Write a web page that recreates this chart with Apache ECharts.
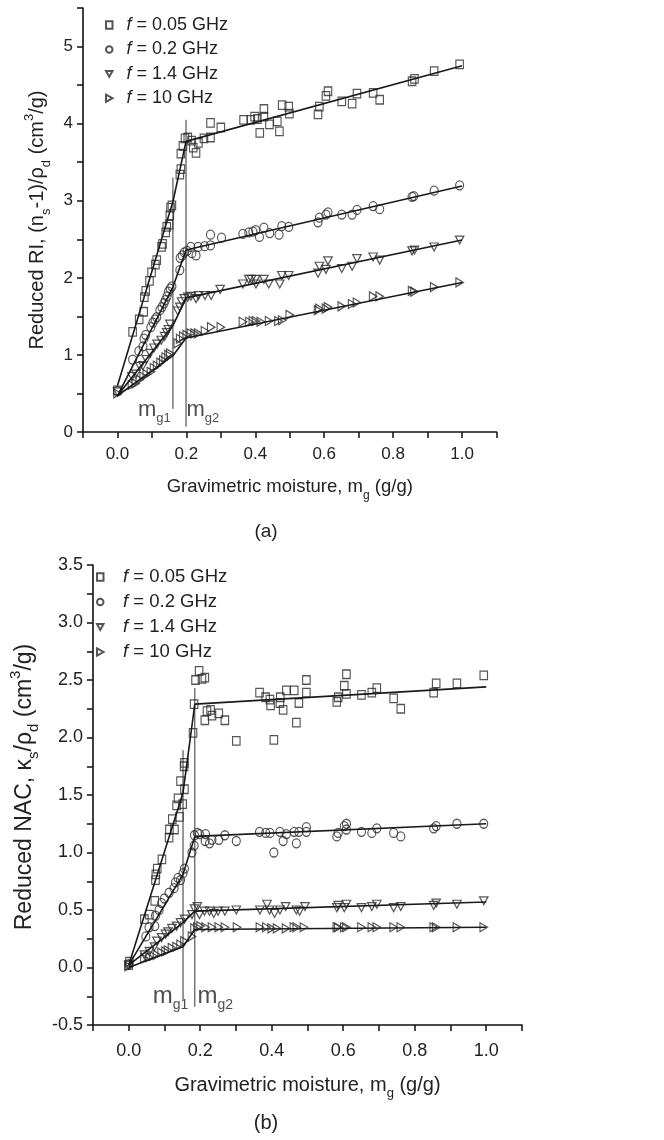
<!DOCTYPE html>
<html><head><meta charset="utf-8">
<script src="https://cdn.jsdelivr.net/npm/echarts@6/dist/echarts.min.js"></script>
<style>html,body{margin:0;padding:0;background:#fff}#c{width:664px;height:1140px}</style>
</head><body><div id="c"></div>
<script>
// ---------- data ----------
const seriesNames = ['f = 0.05 GHz', 'f = 0.2 GHz', 'f = 1.4 GHz', 'f = 10 GHz'];

// (a) reduced RI
const aSqX = [0.0,0.044,0.063,0.076,0.078,0.082,0.093,0.099,0.110,0.114,0.128,0.131,0.140,0.143,0.150,0.152,0.154,0.158,0.181,0.184,0.184,0.190,0.196,0.204,0.215,0.220,0.228,0.235,0.251,0.270,0.270,0.300,0.366,0.387,0.398,0.406,0.413,0.425,0.425,0.441,0.464,0.470,0.478,0.497,0.499,0.582,0.586,0.605,0.611,0.651,0.681,0.695,0.742,0.761,0.855,0.862,0.919,0.993];
const aSqY = [0.54,1.30,1.46,1.56,1.75,1.83,1.96,2.07,2.17,2.23,2.40,2.44,2.59,2.66,2.69,2.81,2.91,2.94,3.34,3.41,3.61,3.71,3.81,3.82,3.78,3.69,3.62,3.75,3.81,3.82,4.01,3.95,4.05,4.05,4.09,4.06,3.88,4.19,4.09,3.99,4.03,3.90,4.24,4.22,4.13,4.12,4.22,4.36,4.42,4.29,4.26,4.39,4.40,4.31,4.55,4.58,4.68,4.77];
const aCiX = [0.0,0.044,0.062,0.074,0.077,0.082,0.097,0.103,0.109,0.114,0.123,0.129,0.135,0.139,0.144,0.148,0.153,0.158,0.181,0.182,0.188,0.194,0.202,0.213,0.216,0.228,0.234,0.253,0.270,0.270,0.302,0.364,0.381,0.393,0.401,0.412,0.425,0.442,0.469,0.477,0.497,0.582,0.586,0.605,0.611,0.651,0.681,0.695,0.742,0.761,0.855,0.860,0.919,0.993];
const aCiY = [0.53,0.94,1.05,1.11,1.21,1.26,1.36,1.42,1.46,1.49,1.58,1.62,1.67,1.71,1.76,1.82,1.86,1.89,2.10,2.26,2.29,2.33,2.35,2.40,2.32,2.29,2.40,2.41,2.56,2.42,2.52,2.57,2.59,2.60,2.62,2.53,2.65,2.58,2.56,2.67,2.66,2.72,2.78,2.82,2.85,2.82,2.82,2.88,2.93,2.89,3.05,3.06,3.13,3.20];
const aTdX = [0.0,0.042,0.053,0.065,0.074,0.084,0.095,0.106,0.115,0.127,0.137,0.143,0.148,0.152,0.175,0.181,0.186,0.194,0.204,0.213,0.228,0.235,0.254,0.272,0.298,0.364,0.381,0.389,0.401,0.402,0.425,0.439,0.471,0.477,0.497,0.582,0.586,0.605,0.611,0.651,0.681,0.695,0.742,0.761,0.855,0.862,0.919,0.993];
const aTdY = [0.52,0.72,0.75,0.85,0.86,0.94,1.02,1.09,1.14,1.19,1.24,1.29,1.33,1.40,1.57,1.62,1.69,1.73,1.75,1.76,1.73,1.77,1.77,1.77,1.85,1.92,1.98,1.98,1.98,1.92,1.98,1.92,1.92,2.03,2.03,2.06,2.15,2.11,2.22,2.12,2.15,2.25,2.27,2.23,2.35,2.36,2.40,2.49];
const aTrX = [0.0,0.042,0.053,0.065,0.076,0.085,0.097,0.106,0.115,0.125,0.133,0.140,0.148,0.153,0.175,0.182,0.191,0.201,0.213,0.224,0.234,0.254,0.272,0.300,0.364,0.383,0.393,0.402,0.416,0.440,0.467,0.478,0.500,0.582,0.586,0.605,0.611,0.651,0.681,0.695,0.742,0.761,0.855,0.862,0.919,0.993];
const aTrY = [0.50,0.61,0.63,0.68,0.72,0.75,0.78,0.83,0.86,0.90,0.93,0.97,1.00,1.02,1.15,1.21,1.24,1.26,1.28,1.28,1.28,1.31,1.36,1.36,1.43,1.43,1.44,1.44,1.43,1.44,1.44,1.45,1.52,1.58,1.60,1.60,1.62,1.63,1.66,1.68,1.76,1.76,1.83,1.82,1.88,1.94];
const aMg1 = 0.161, aMg2 = 0.199;
const aFitX = [0, aMg1, aMg2, 1.0];
const aFitSq = [0.60, 2.99, 3.77, 4.75];
const aFitCi = [0.47, 1.88, 2.36, 3.19];
const aFitTd = [0.47, 1.38, 1.74, 2.49];
const aFitTr = [0.47, 0.99, 1.22, 1.94];
const aMg1Span = [0.30, 3.30];
const aMg2Span = [0.07, 4.05];
const aMgLabelY = 0.28, aMg1LabelX = 0.058, aMg2LabelX = 0.199;

// (b) reduced NAC
const bSqX = [0.0,0.002,0.044,0.058,0.073,0.075,0.076,0.080,0.093,0.113,0.114,0.122,0.128,0.134,0.138,0.142,0.145,0.151,0.155,0.156,0.156,0.180,0.183,0.187,0.197,0.205,0.213,0.213,0.219,0.229,0.233,0.252,0.269,0.301,0.366,0.383,0.395,0.397,0.406,0.423,0.424,0.432,0.441,0.463,0.469,0.476,0.497,0.497,0.582,0.586,0.603,0.609,0.609,0.651,0.680,0.694,0.741,0.761,0.853,0.860,0.918,0.993];
const bSqY = [0.02,0.05,0.42,0.46,0.58,0.76,0.81,0.86,0.94,1.13,1.20,1.29,1.20,1.41,1.47,1.31,1.62,1.42,1.75,1.55,1.78,2.04,2.29,2.50,2.58,2.51,2.52,2.15,2.23,2.24,2.19,2.21,2.15,1.97,2.39,2.35,2.33,2.28,1.98,2.30,2.35,2.24,2.41,2.41,2.13,2.30,2.50,2.39,2.31,2.35,2.45,2.55,2.38,2.37,2.39,2.43,2.34,2.25,2.39,2.47,2.47,2.54];
const bCiX = [0.0,0.048,0.057,0.073,0.075,0.085,0.092,0.100,0.113,0.127,0.131,0.138,0.145,0.152,0.156,0.177,0.183,0.184,0.192,0.198,0.214,0.215,0.226,0.233,0.252,0.269,0.301,0.366,0.383,0.395,0.406,0.423,0.432,0.441,0.463,0.469,0.476,0.497,0.497,0.582,0.586,0.603,0.609,0.609,0.651,0.680,0.694,0.741,0.761,0.853,0.860,0.918,0.993];
const bCiY = [0.03,0.27,0.35,0.36,0.45,0.50,0.56,0.60,0.65,0.69,0.74,0.78,0.76,0.82,0.86,1.00,1.06,1.15,1.17,1.16,1.10,1.16,1.08,1.11,1.11,1.15,1.10,1.18,1.17,1.17,1.00,1.18,1.10,1.16,1.18,1.08,1.18,1.22,1.18,1.14,1.17,1.23,1.25,1.20,1.18,1.17,1.21,1.17,1.14,1.21,1.23,1.25,1.25];
const bTdX = [0.0,0.044,0.058,0.072,0.079,0.092,0.103,0.110,0.121,0.134,0.145,0.156,0.177,0.184,0.192,0.198,0.212,0.226,0.238,0.250,0.269,0.301,0.367,0.387,0.394,0.408,0.423,0.439,0.469,0.478,0.493,0.582,0.586,0.603,0.609,0.651,0.680,0.694,0.741,0.761,0.853,0.860,0.918,0.993];
const bTdY = [0.02,0.11,0.14,0.18,0.23,0.26,0.29,0.31,0.34,0.36,0.39,0.42,0.46,0.51,0.53,0.46,0.49,0.49,0.47,0.49,0.49,0.50,0.50,0.55,0.50,0.47,0.50,0.53,0.50,0.49,0.53,0.52,0.54,0.52,0.55,0.52,0.53,0.55,0.52,0.53,0.54,0.56,0.55,0.58];
const bTrX = [0.0,0.044,0.058,0.069,0.079,0.092,0.103,0.110,0.121,0.134,0.145,0.156,0.177,0.184,0.192,0.201,0.215,0.233,0.252,0.269,0.303,0.367,0.385,0.400,0.415,0.440,0.462,0.470,0.490,0.582,0.586,0.603,0.609,0.651,0.680,0.694,0.741,0.761,0.853,0.860,0.918,0.993];
const bTrY = [0.01,0.08,0.09,0.10,0.11,0.13,0.14,0.15,0.17,0.18,0.20,0.23,0.27,0.34,0.35,0.36,0.35,0.35,0.35,0.35,0.35,0.35,0.35,0.34,0.34,0.34,0.35,0.35,0.35,0.35,0.35,0.35,0.35,0.35,0.35,0.35,0.35,0.35,0.35,0.35,0.35,0.35];
const bMg1 = 0.152, bMg2 = 0.185;
const bFitX = [0, bMg1, bMg2, 1.0];
const bFitSq = [0.02, 1.52, 2.29, 2.44];
const bFitCi = [0.02, 0.81, 1.14, 1.25];
const bFitTd = [0.02, 0.39, 0.49, 0.57];
const bFitTr = [0.00, 0.18, 0.33, 0.35];
const bMg1Span = [-0.28, 1.89];
const bMg2Span = [-0.34, 2.43];
const bMgLabelY = -0.25, bMg1LabelX = 0.066, bMg2LabelX = 0.191;

// ---------- style ----------
const FR = '"Liberation Sans", Arial, sans-serif';
const INK = '#222';
const SYMBOLS = ['rect', 'path://M0,5A5,5,0,1,1,10,5A5,5,0,1,1,0,5Z', 'path://M0,0L10,0L5,9Z', 'path://M0,0L9,5L0,10Z'];
const SIZES = [[7.5, 8.5], [8, 9], [8.5, 8], [7.5, 9]];
const zip = (xs, ys) => xs.map((x, i) => [x, ys[i]]);

function nameRich(fs, sfs) {
  return {
    t: {fontSize: fs, fontFamily: FR, color: INK, lineHeight: fs + 10, verticalAlign: 'middle'},
    sub: {fontSize: sfs, fontFamily: FR, color: INK, lineHeight: sfs + 1, verticalAlign: 'bottom'},
    sup: {fontSize: sfs, fontFamily: FR, color: INK, lineHeight: sfs + 1, verticalAlign: 'top'}
  };
}
function axisBase(fs, tickLen) {
  return {
    type: 'value',
    axisLine: {show: true, onZero: false, lineStyle: {color: '#111', width: 1.6}},
    axisTick: {show: true, inside: false, length: tickLen, lineStyle: {color: '#111', width: 1.5}},
    splitLine: {show: false},
    axisLabel: {fontFamily: FR, fontSize: fs, color: INK}
  };
}
const xFmt = v => { const k = Math.round(v * 10); return (k % 2 === 0 && k >= 0 && k <= 10) ? (k / 10).toFixed(1) : ''; };
const yFmtA = v => { const k = Math.round(v * 2); return (k % 2 === 0) ? String(k / 2) : ''; };
const yFmtB = v => { const k = Math.round(v * 4); return (k % 2 === 0) ? (k / 4).toFixed(1) : ''; };

const xName = '{t|Gravimetric moisture, m}{sub|g}{t| (g/g)}';

function scatterSeries(idx, name, xs, ys, s) {
  return {
    type: 'scatter', name: name, xAxisIndex: idx, yAxisIndex: idx,
    symbol: SYMBOLS[s], symbolSize: SIZES[s], z: 3,
    itemStyle: {color: 'rgba(0,0,0,0)', borderColor: '#2a2a2a', borderWidth: 1.2},
    data: zip(xs, ys)
  };
}
function fitSeries(idx, xs, ys) {
  return {
    type: 'line', name: 'fit', xAxisIndex: idx, yAxisIndex: idx, showSymbol: false, symbol: 'none',
    lineStyle: {color: '#1a1a1a', width: 1.6}, z: 4, silent: true,
    data: zip(xs, ys)
  };
}
function vline(idx, x, span) {
  return {
    type: 'line', name: 'mg', xAxisIndex: idx, yAxisIndex: idx, showSymbol: false, symbol: 'none',
    lineStyle: {color: '#333', width: 1}, z: 2, silent: true,
    data: [[x, span[0]], [x, span[1]]]
  };
}
function mgLabel(idx, x, y, sub, fs, sfs) {
  return {
    type: 'scatter', name: 'mglab', xAxisIndex: idx, yAxisIndex: idx, symbolSize: 1, silent: true,
    itemStyle: {color: 'rgba(0,0,0,0)'},
    label: {show: true, position: 'right', distance: 0,
      formatter: '{m|m}{s|' + sub + '}',
      rich: {
        m: {fontSize: fs, fontFamily: FR, color: INK, lineHeight: fs + 8, verticalAlign: 'middle'},
        s: {fontSize: sfs, fontFamily: FR, color: INK, lineHeight: sfs + 1, verticalAlign: 'bottom'}
      }},
    data: [[x, y]]
  };
}
function legend(left, top, gap, sp, fs) {
  return {
    data: seriesNames, orient: 'vertical', left: left, top: top, itemWidth: 6.5, itemHeight: 7.5,
    itemGap: gap, selectedMode: false,
    formatter: n => '{sp| }{i|f}{t|' + n.slice(1) + '}',
    textStyle: {
      fontFamily: FR, fontSize: fs, color: INK, lineHeight: 20,
      rich: {
        sp: {width: sp, fontSize: fs, lineHeight: 20},
        i: {fontStyle: 'italic', fontFamily: FR, fontSize: fs, color: INK, lineHeight: 20},
        t: {fontFamily: FR, fontSize: fs, color: INK, lineHeight: 20}
      }
    }
  };
}

const axA = axisBase(17, 6), axB = axisBase(18, 6);
const option = {
  animation: false,
  backgroundColor: '#fff',
  grid: [
    {left: 83, top: 8, width: 413.5, height: 424},
    {left: 74.6, top: 565, width: 447.4, height: 460}
  ],
  legend: [legend(100, 10, 4.4, 9, 18), legend(91, 562, 5, 14.5, 18.5)],
  xAxis: [
    Object.assign({}, axA, {gridIndex: 0, min: -0.1, max: 1.1, interval: 0.1,
      axisLabel: Object.assign({}, axA.axisLabel, {formatter: xFmt, margin: 14}),
      name: xName, nameLocation: 'middle', nameGap: 41, nameTextStyle: {rich: nameRich(18.5, 12)}}),
    Object.assign({}, axB, {gridIndex: 1, min: -0.1, max: 1.1, interval: 0.1,
      axisLabel: Object.assign({}, axB.axisLabel, {formatter: xFmt, margin: 17}),
      name: xName, nameLocation: 'middle', nameGap: 45, nameTextStyle: {rich: nameRich(20, 13)}})
  ],
  yAxis: [
    Object.assign({}, axA, {gridIndex: 0, min: 0, max: 5.5, interval: 0.5,
      axisLabel: Object.assign({}, axA.axisLabel, {formatter: yFmtA, margin: 10}),
      name: '{t|Reduced RI, (n}{sub|s}{t|-1)/ρ}{sub|d}{t| (cm}{sup|3}{t|/g)}',
      nameLocation: 'middle', nameRotate: 90, nameGap: 30, nameTextStyle: {rich: nameRich(20, 13)}}),
    Object.assign({}, axB, {gridIndex: 1, min: -0.5, max: 3.5, interval: 0.25,
      axisLabel: Object.assign({}, axB.axisLabel, {formatter: yFmtB, margin: 10}),
      name: '{t|Reduced NAC, κ}{sub|s}{t|/ρ}{sub|d}{t| (cm}{sup|3}{t|/g)}',
      nameLocation: 'middle', nameRotate: 90, nameGap: 32,
      nameTextStyle: {padding: [0, 0, 0, 16], rich: nameRich(23, 15)}})
  ],
  graphic: [
    {type: 'text', style: {text: '(a)', x: 266, y: 532, textAlign: 'center', textVerticalAlign: 'middle', font: '19px ' + FR, fill: INK}},
    {type: 'text', style: {text: '(b)', x: 266, y: 1123, textAlign: 'center', textVerticalAlign: 'middle', font: '20px ' + FR, fill: INK}}
  ],
  series: [
    vline(0, aMg1, aMg1Span), vline(0, aMg2, aMg2Span),
    fitSeries(0, aFitX, aFitSq), fitSeries(0, aFitX, aFitCi), fitSeries(0, aFitX, aFitTd), fitSeries(0, aFitX, aFitTr),
    scatterSeries(0, seriesNames[0], aSqX, aSqY, 0),
    scatterSeries(0, seriesNames[1], aCiX, aCiY, 1),
    scatterSeries(0, seriesNames[2], aTdX, aTdY, 2),
    scatterSeries(0, seriesNames[3], aTrX, aTrY, 3),
    mgLabel(0, aMg1LabelX, aMgLabelY, 'g1', 22, 13), mgLabel(0, aMg2LabelX, aMgLabelY, 'g2', 22, 13),
    vline(1, bMg1, bMg1Span), vline(1, bMg2, bMg2Span),
    fitSeries(1, bFitX, bFitSq), fitSeries(1, bFitX, bFitCi), fitSeries(1, bFitX, bFitTd), fitSeries(1, bFitX, bFitTr),
    scatterSeries(1, seriesNames[0], bSqX, bSqY, 0),
    scatterSeries(1, seriesNames[1], bCiX, bCiY, 1),
    scatterSeries(1, seriesNames[2], bTdX, bTdY, 2),
    scatterSeries(1, seriesNames[3], bTrX, bTrY, 3),
    mgLabel(1, bMg1LabelX, bMgLabelY, 'g1', 24, 14), mgLabel(1, bMg2LabelX, bMgLabelY, 'g2', 24, 14)
  ]
};

const chart = echarts.init(document.getElementById('c'), null, {renderer: 'canvas'});
chart.setOption(option);
</script>
</body></html>
